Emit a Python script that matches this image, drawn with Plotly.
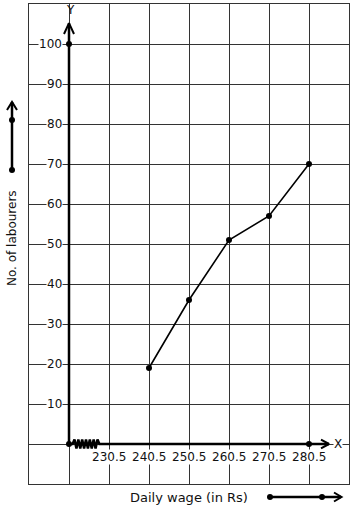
import numpy as np
import plotly.graph_objects as go

# ---- data ----
wages = [240.5, 250.5, 260.5, 270.5, 280.5]
labourers = [19, 36, 51, 57, 70]
x_tick_vals = [230.5, 240.5, 250.5, 260.5, 270.5, 280.5]
x_tick_labels = ["230.5", "240.5", "250.5", "260.5", "270.5", "280.5"]
y_tick_vals = [10, 20, 30, 40, 50, 60, 70, 80, 90, 100]
y_tick_labels = [str(v) for v in y_tick_vals]
origin_x = 220.5
axis_dot_x = [220.5, 220.5, 280.5]
axis_dot_y = [0, 100, 0]

W, H = 354, 510
FONT = "DejaVu Sans"
GRID = "#333333"
INK = "#111111"

fig = go.Figure()

# y axis (thick) with arrowhead
fig.add_trace(go.Scatter(x=[origin_x, origin_x], y=[0, 105.2], mode="lines",
                         line=dict(color="black", width=2.5), hoverinfo="skip"))
fig.add_trace(go.Scatter(x=[origin_x - 1.25, origin_x, origin_x + 1.25], y=[102.5, 105.2, 102.5],
                         mode="lines", line=dict(color="black", width=2), hoverinfo="skip"))

# x axis (thick) with break zigzag and arrowhead
zz_start, zz_end = origin_x + 0.9, origin_x + 7.6
n = 15
zx = np.linspace(zz_start, zz_end, n)
zy = np.array([0 if i in (0, n - 1) else (1.1 if i % 2 else -1.1) for i in range(n)])
fig.add_trace(go.Scatter(x=[origin_x] + list(zx) + [285.5], y=[0] + list(zy) + [0], mode="lines",
                         line=dict(color="black", width=2.5), hoverinfo="skip"))
fig.add_trace(go.Scatter(x=[283.5, 285.5, 283.5], y=[1.1, 0, -1.1], mode="lines",
                         line=dict(color="black", width=2), hoverinfo="skip"))

# dots on axes
fig.add_trace(go.Scatter(x=axis_dot_x, y=axis_dot_y, mode="markers",
                         marker=dict(color="black", size=6), hoverinfo="skip"))

# data polyline
fig.add_trace(go.Scatter(x=wages, y=labourers, mode="lines+markers",
                         line=dict(color="black", width=1.6),
                         marker=dict(color="black", size=6)))

# decorations in pixel coordinates (second full-page subplot)
fig.add_trace(go.Scatter(x=[12, 12], y=[170, 102], mode="lines", xaxis="x2", yaxis="y2",
                         line=dict(color="black", width=2.5), hoverinfo="skip"))
fig.add_trace(go.Scatter(x=[7, 12, 17], y=[110, 102, 110], mode="lines", xaxis="x2", yaxis="y2",
                         line=dict(color="black", width=2), hoverinfo="skip"))
fig.add_trace(go.Scatter(x=[12, 12], y=[120, 170], mode="markers", xaxis="x2", yaxis="y2",
                         marker=dict(color="black", size=6), hoverinfo="skip"))
fig.add_trace(go.Scatter(x=[270, 341], y=[497, 497], mode="lines", xaxis="x2", yaxis="y2",
                         line=dict(color="black", width=2.5), hoverinfo="skip"))
fig.add_trace(go.Scatter(x=[334, 341.5, 334], y=[492.5, 497, 501.5], mode="lines", xaxis="x2", yaxis="y2",
                         line=dict(color="black", width=2), hoverinfo="skip"))
fig.add_trace(go.Scatter(x=[270, 322], y=[497, 497], mode="markers", xaxis="x2", yaxis="y2",
                         marker=dict(color="black", size=6), hoverinfo="skip"))

annotations = []
for v, t in zip(y_tick_vals, y_tick_labels):
    annotations.append(dict(x=origin_x - 1.4, y=v, xref="x", yref="y", text=t, showarrow=False,
                            xanchor="right", yanchor="middle", bgcolor="white", borderpad=0,
                            font=dict(family=FONT, size=12, color=INK)))
for v, t in zip(x_tick_vals, x_tick_labels):
    annotations.append(dict(x=v, y=-3.3, xref="x", yref="y", text=t, showarrow=False,
                            xanchor="center", yanchor="middle", bgcolor="white", borderpad=0,
                            font=dict(family=FONT, size=12, color=INK)))
annotations.append(dict(x=287.8, y=0, xref="x", yref="y", text="X", showarrow=False,
                        xanchor="center", yanchor="middle", bgcolor="white", borderpad=0,
                        font=dict(family=FONT, size=12, color=INK)))
annotations.append(dict(x=origin_x + 0.3, y=108.6, xref="x", yref="y", text="Y", showarrow=False,
                        xanchor="center", yanchor="middle", borderpad=0,
                        font=dict(family=FONT, size=12, color=INK)))
annotations.append(dict(x=12 / W, y=1 - 238 / H, xref="paper", yref="paper", text="No. of labourers",
                        showarrow=False, textangle=-90, xanchor="center", yanchor="middle",
                        font=dict(family=FONT, size=12, color=INK)))
annotations.append(dict(x=189 / W, y=1 - 497 / H, xref="paper", yref="paper", text="Daily wage (in Rs)",
                        showarrow=False, xanchor="center", yanchor="middle",
                        font=dict(family=FONT, size=13, color=INK)))

fig.update_layout(
    width=W, height=H,
    margin=dict(l=0, r=0, t=0, b=0),
    paper_bgcolor="white",
    plot_bgcolor="rgba(0,0,0,0)",
    showlegend=False,
    xaxis=dict(domain=[29 / W, 349 / W], range=[210.5, 290.5], tick0=210.5, dtick=10,
               showgrid=True, gridcolor=GRID, gridwidth=1, showticklabels=False, ticks="",
               zeroline=False, showline=True, mirror=True, linecolor=GRID, linewidth=1,
               fixedrange=True),
    yaxis=dict(domain=[26 / H, 506 / H], range=[-10, 110], tick0=0, dtick=10,
               showgrid=True, gridcolor=GRID, gridwidth=1, showticklabels=False, ticks="",
               zeroline=False, showline=True, mirror=True, linecolor=GRID, linewidth=1,
               fixedrange=True),
    xaxis2=dict(domain=[0, 1], range=[0, W], visible=False, anchor="y2", fixedrange=True),
    yaxis2=dict(domain=[0, 1], range=[H, 0], visible=False, anchor="x2", fixedrange=True),
    annotations=annotations,
)

fig.write_html("out.html")
